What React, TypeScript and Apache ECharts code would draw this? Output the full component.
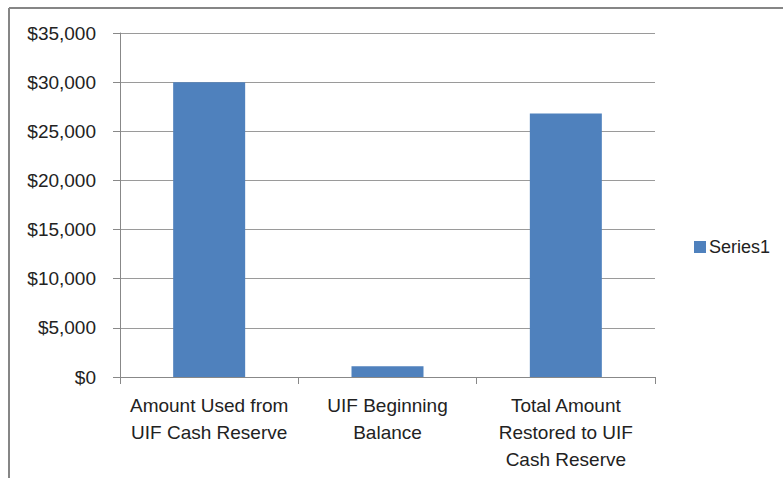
import React, { useEffect, useRef } from "react";
import * as echarts from "echarts";

const categories = [
  "Amount Used from\nUIF Cash Reserve",
  "UIF Beginning\nBalance",
  "Total Amount\nRestored to UIF\nCash Reserve",
];
const seriesName = "Series1";
const values = [30000, 1100, 26800];
const yMin = 0;
const yMax = 35000;
const yInterval = 5000;

const FONT = "'Liberation Sans', Arial, sans-serif";

export default function App() {
  const ref = useRef<HTMLDivElement>(null);
  useEffect(() => {
    document.body.style.margin = "0";
    if (!ref.current) return;
    const chart = echarts.init(ref.current, null, { renderer: "svg" });
    chart.setOption({
      animation: false,
      backgroundColor: "#ffffff",
      textStyle: { fontFamily: FONT },
      graphic: [
        { type: "line", shape: { x1: 9, y1: 8, x2: 783, y2: 8 }, style: { stroke: "#868686", lineWidth: 2 } },
        { type: "line", shape: { x1: 9, y1: 8, x2: 9, y2: 478 }, style: { stroke: "#868686", lineWidth: 2 } },
      ],
      grid: { left: 120, right: 128, top: 33, bottom: 101, containLabel: false },
      legend: {
        data: [seriesName],
        left: 689,
        top: 233,
        orient: "vertical",
        icon: "rect",
        itemWidth: 12,
        itemHeight: 12,
        itemGap: 6,
        textStyle: { fontSize: 18, color: "#222", fontFamily: FONT, padding: [0, 0, 0, -2] },
      },
      xAxis: {
        type: "category",
        data: categories,
        axisLine: { lineStyle: { color: "#888", width: 1 } },
        axisTick: { show: true, alignWithLabel: false, length: 7, lineStyle: { color: "#888" } },
        axisLabel: {
          color: "#222",
          fontSize: 19,
          lineHeight: 27,
          margin: 15,
          interval: 0,
          fontFamily: FONT,
        },
      },
      yAxis: {
        type: "value",
        min: yMin,
        max: yMax,
        interval: yInterval,
        axisLine: { show: true, lineStyle: { color: "#888", width: 1 } },
        axisTick: { show: true, length: 7, lineStyle: { color: "#888" } },
        splitLine: { lineStyle: { color: "#9a9a9a", width: 1 } },
        axisLabel: {
          color: "#222",
          fontSize: 19,
          margin: 24,
          fontFamily: FONT,
          formatter: (v: number) => "$" + v.toLocaleString("en-US"),
        },
      },
      series: [
        {
          name: seriesName,
          type: "bar",
          data: values,
          barWidth: 72,
          itemStyle: { color: "#4f81bd" },
        },
      ],
    });
    return () => chart.dispose();
  }, []);
  return <div ref={ref} style={{ width: 783, height: 478 }} />;
}
